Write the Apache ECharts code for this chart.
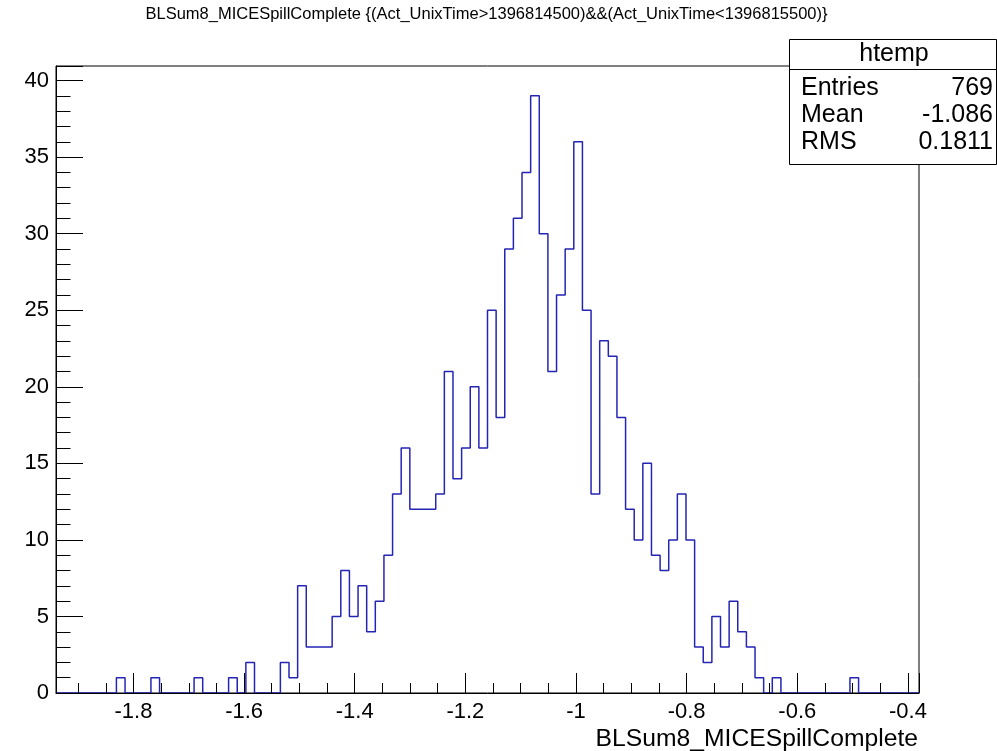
<!DOCTYPE html>
<html>
<head>
<meta charset="utf-8">
<script src="https://cdn.jsdelivr.net/npm/echarts@6/dist/echarts.min.js"></script>
<style>
html,body{margin:0;padding:0;background:#fff;}
#chart{width:997px;height:751px;}
</style>
</head>
<body>
<div id="chart"></div>
<script>
// Histogram definition (ROOT htemp, 100 bins)
const xMin = -1.94;
const xMax = -0.38;
const nBins = 100;
const counts = [
  0,0,0,0,0,0,0,1,0,0,
  0,1,0,0,0,0,1,0,0,0,
  1,0,2,0,0,0,2,1,7,3,
  3,3,5,8,5,7,4,6,9,13,
  16,12,12,12,13,21,14,16,20,16,
  25,18,29,31,34,39,30,21,26,29,
  36,25,13,23,22,18,12,10,15,9,
  8,10,13,10,3,2,5,3,6,4,
  3,1,0,1,0,0,0,0,0,0,
  0,0,1,0,0,0,0,0,0,0
];
const yMax = 40.95;
const titleText = "BLSum8_MICESpillComplete {(Act_UnixTime>1396814500)&&(Act_UnixTime<1396815500)}";
const xAxisTitle = "BLSum8_MICESpillComplete";
const statsName = "htemp";
const statsLabels = ["Entries", "Mean", "RMS"];
const statsValues = ["769", "-1.086", "0.1811"];

const FONT = "'Liberation Sans', Arial, Helvetica, sans-serif";
const binW = (xMax - xMin) / nBins;
const histData = [[xMin, 0]];
counts.forEach((c, i) => histData.push([xMin + i * binW, c]));
histData.push([xMax, counts[counts.length - 1]]);

const chart = echarts.init(document.getElementById('chart'), null, {renderer: 'canvas'});

const statsRowsY = [88, 115, 142];
const graphics = [
  {type: 'text', x: 486.5, y: 14, z: 10, style: {text: titleText, font: '16.5px ' + FONT, fill: '#000', textAlign: 'center', textVerticalAlign: 'middle'}},
  {type: 'text', x: 918, y: 739, z: 10, style: {text: xAxisTitle, font: '24.7px ' + FONT, fill: '#000', textAlign: 'right', textVerticalAlign: 'middle'}},
  {type: 'rect', z: 20, shape: {x: 789.5, y: 39.5, width: 207, height: 125}, style: {fill: '#fff', stroke: '#000', lineWidth: 1}},
  {type: 'line', z: 21, shape: {x1: 789.5, y1: 69.5, x2: 996.5, y2: 69.5}, style: {stroke: '#000', lineWidth: 1}},
  {type: 'text', z: 22, x: 894, y: 54, style: {text: statsName, font: '25px ' + FONT, fill: '#000', textAlign: 'center', textVerticalAlign: 'middle'}}
];
statsLabels.forEach((l, i) => {
  graphics.push({type: 'text', z: 22, x: 801, y: statsRowsY[i], style: {text: l, font: '25px ' + FONT, fill: '#000', textAlign: 'left', textVerticalAlign: 'middle'}});
  graphics.push({type: 'text', z: 22, x: 993, y: statsRowsY[i], style: {text: statsValues[i], font: '25px ' + FONT, fill: '#000', textAlign: 'right', textVerticalAlign: 'middle'}});
});

chart.setOption({
  animation: false,
  backgroundColor: '#fff',
  grid: {left: 56, right: 78, top: 66, bottom: 58, show: true, borderColor: '#000', borderWidth: 1, containLabel: false, outerBoundsMode: 'none'},
  xAxis: {
    type: 'value', min: xMin, max: xMax, splitNumber: 8, z: 5,
    axisLine: {show: true, onZero: false, lineStyle: {color: '#000', width: 1}},
    axisTick: {show: true, inside: true, length: 20, lineStyle: {color: '#000', width: 1}},
    minorTick: {show: true, splitNumber: 4, length: 10, lineStyle: {color: '#000', width: 1}},
    splitLine: {show: false}, minorSplitLine: {show: false},
    axisLabel: {show: true, showMinLabel: false, showMaxLabel: false, margin: 8, color: '#000', fontSize: 22, fontFamily: FONT,
      formatter: v => {const r = Math.round(v * 5); return Math.abs(v * 5 - r) < 1e-6 ? String(+v.toFixed(1)) : '';}}
  },
  yAxis: {
    type: 'value', min: 0, max: yMax, interval: 5, z: 5,
    axisLine: {show: true, lineStyle: {color: '#000', width: 1}},
    axisTick: {show: true, inside: true, length: 27, lineStyle: {color: '#000', width: 1}},
    minorTick: {show: true, splitNumber: 5, length: 14.5, lineStyle: {color: '#000', width: 1}},
    splitLine: {show: false}, minorSplitLine: {show: false},
    axisLabel: {show: true, showMaxLabel: false, margin: 7, color: '#000', fontSize: 22, fontFamily: FONT,
      formatter: v => (Math.abs(v % 5) < 1e-6 ? String(v) : '')}
  },
  series: [{
    type: 'line', step: 'end', data: histData, symbol: 'none', z: 2,
    lineStyle: {color: '#2525b4', width: 1.5}, silent: true
  }],
  graphic: graphics
});
</script>
</body>
</html>
